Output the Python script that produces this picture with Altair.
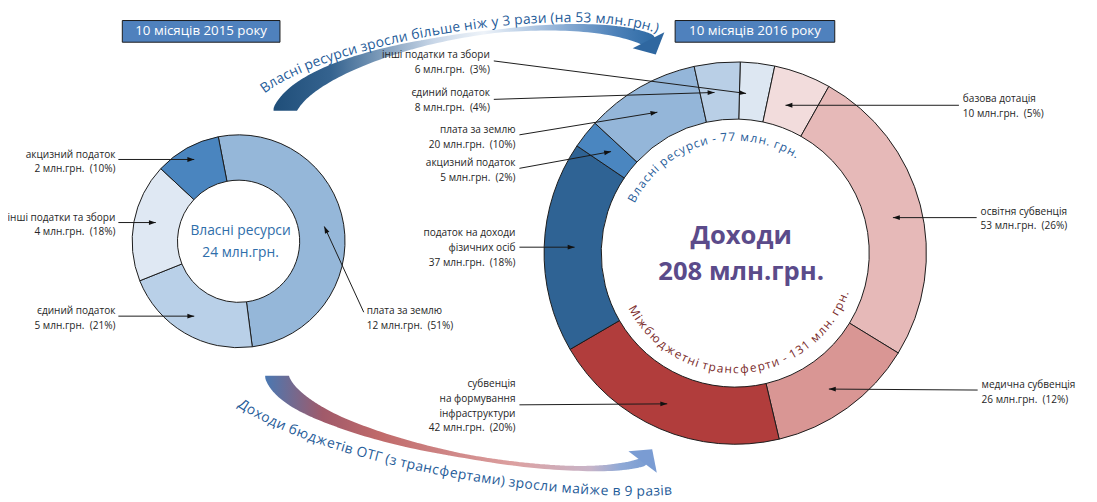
import math
import numpy as np
import pandas as pd
import altair as alt

# ---------------- values ----------------
left_cats = ["плата за землю", "єдиний податок", "інші податки та збори", "акцизний податок"]
left_vals = [12, 5, 4, 2]
left_pcts = [51, 21, 18, 10]

right_cats = ["інші податки та збори", "базова дотація", "освітня субвенція", "медична субвенція",
              "субвенція на формування інфраструктури", "податок на доходи фізичних осіб",
              "акцизний податок", "плата за землю", "єдиний податок"]
right_vals = [6, 10, 53, 26, 42, 37, 5, 20, 8]
right_pcts = [3, 5, 26, 12, 20, 18, 2, 10, 4]

left_title = "10 місяців 2015 року"
right_title = "10 місяців 2016 року"
left_center = ["Власні ресурси", "24 млн.грн."]
right_center = ["Доходи", "208 млн.грн."]
own_arc_text = "Власні ресурси - 77 млн. грн."
transfer_arc_text = "Міжбюджетні трансферти - 131 млн. грн."
top_arrow_text = "Власні ресурси зросли більше ніж у 3 рази (на 53 млн.грн.)"
bottom_arrow_text = "Доходи бюджетів ОТГ (з трансфертами) зросли майже в 9 разів"
unit = "млн.грн."
label_lines = {
    "податок на доходи фізичних осіб": ["податок на доходи", "фізичних осіб"],
    "субвенція на формування інфраструктури": ["субвенція", "на формування", "інфраструктури"],
}

# ---------------- styles ----------------
left_colors = ["#95b7d9", "#b9d0e8", "#dfe8f3", "#4a85bf"]
right_colors = ["#dde7f2", "#f2dcdc", "#e6b9b8", "#d99694", "#b13d3c", "#2f6394",
                "#4a86c0", "#94b6d9", "#b9cfe6"]
FONT = "Open Sans"
W, H = 1097, 502

# ---------------- layout (pixel positions of annotations) ----------------
L_CX, L_CY, L_RO, L_RI, L_START = 242, 241, 108, 62, -11
R_CX, R_CY, R_RO, R_RI, R_START = 746, 253, 194, 136, 1.5

left_layout = {
    "акцизний податок": dict(x=117, y=153, align="right", line=(120, 158, 197, 158)),
    "інші податки та збори": dict(x=117, y=217, align="right", line=(120, 222, 158, 222)),
    "єдиний податок": dict(x=117, y=312, align="right", line=(120, 317, 197, 317)),
    "плата за землю": dict(x=372, y=312, align="left", line=(369, 313, 329, 226)),
}
right_layout = {
    "інші податки та збори": dict(x=497, y=52, align="right", line=(501, 58, 757, 91)),
    "єдиний податок": dict(x=497, y=91, align="right", line=(501, 97, 725, 90)),
    "плата за землю": dict(x=523, y=128, align="right", line=(527, 133, 667, 110)),
    "акцизний податок": dict(x=523, y=162, align="right", line=(527, 167, 620, 150)),
    "податок на доходи фізичних осіб": dict(x=523, y=233, align="right", line=(527, 247, 583, 247)),
    "субвенція на формування інфраструктури": dict(x=523, y=386, align="right", line=(527, 407, 677, 406)),
    "базова дотація": dict(x=977, y=97, align="left", line=(973, 103, 797, 103)),
    "освітня субвенція": dict(x=995, y=211, align="left", line=(991, 217, 906, 217)),
    "медична субвенція": dict(x=996, y=387, align="left", line=(992, 392, 841, 391)),
}

xs = alt.Scale(domain=[8, 8 + W], range=[0, W], nice=False, zero=False)
ys = alt.Scale(domain=[8, 8 + H], range=[0, H], nice=False, zero=False)


def X(f):
    return alt.X(f"{f}:Q", scale=xs, axis=None)


def Y(f):
    return alt.Y(f"{f}:Q", scale=ys, axis=None)


EM = {" ": 0.26, ".": 0.27, ",": 0.27, "(": 0.30, ")": 0.30, "-": 0.32, "і": 0.26, "ї": 0.26,
      "а": 0.56, "б": 0.6, "в": 0.57, "г": 0.45, "д": 0.58, "е": 0.56, "є": 0.52, "ж": 0.8,
      "з": 0.49, "и": 0.63, "й": 0.63, "к": 0.54, "л": 0.6, "м": 0.75, "н": 0.63, "о": 0.6,
      "п": 0.63, "р": 0.61, "с": 0.48, "т": 0.47, "у": 0.5, "ф": 0.77, "х": 0.53, "ц": 0.64,
      "ч": 0.6, "ш": 0.9, "щ": 0.92, "ь": 0.57, "ю": 0.86, "я": 0.56,
      "В": 0.63, "Д": 0.65, "М": 0.86, "О": 0.78, "Т": 0.55, "Г": 0.5}


def em(c):
    if c.isdigit():
        return 0.57
    return EM.get(c, 0.56)


def bezier(P, t):
    t = np.asarray(t, dtype=float)
    (x0, y0), (x1, y1), (x2, y2), (x3, y3) = P
    mt = 1 - t
    x = mt**3 * x0 + 3 * mt**2 * t * x1 + 3 * mt * t**2 * x2 + t**3 * x3
    y = mt**3 * y0 + 3 * mt**2 * t * y1 + 3 * mt * t**2 * y2 + t**3 * y3
    dx = 3 * mt**2 * (x1 - x0) + 6 * mt * t * (x2 - x1) + 3 * t**2 * (x3 - x2)
    dy = 3 * mt**2 * (y1 - y0) + 6 * mt * t * (y2 - y1) + 3 * t**2 * (y3 - y2)
    return x, y, dx, dy


def text_on_bezier(text, P, fs):
    ts = np.linspace(0, 1, 2001)
    x, y, _, _ = bezier(P, ts)
    s = np.concatenate([[0], np.cumsum(np.hypot(np.diff(x), np.diff(y)))])
    widths = [em(c) * fs for c in text]
    k = s[-1] / sum(widths)
    rows, acc = [], 0.0
    for c, w in zip(text, widths):
        mid = (acc + w / 2) * k
        acc += w
        if c == " ":
            continue
        t = float(np.interp(mid, s, ts))
        px, py, pdx, pdy = bezier(P, t)
        rows.append(dict(ch=c, x=float(px), y=float(py), rot=math.degrees(math.atan2(float(pdy), float(pdx)))))
    return pd.DataFrame(rows)


def text_on_circle(text, cx, cy, r, a0, a1, fs):
    L = math.radians(abs(a1 - a0)) * r
    widths = [em(c) * fs for c in text]
    k = L / sum(widths)
    sgn = 1 if a1 > a0 else -1
    rows, acc = [], 0.0
    for c, w in zip(text, widths):
        mid = (acc + w / 2) * k
        acc += w
        if c == " ":
            continue
        phi = math.radians(a0) + sgn * mid / r
        rot = math.degrees(phi) if sgn > 0 else math.degrees(phi) - 180
        rows.append(dict(ch=c, x=cx + r * math.sin(phi), y=cy - r * math.cos(phi), rot=rot))
    return pd.DataFrame(rows)


def char_layer(df, fs, color, weight="normal"):
    return alt.Chart(df).mark_text(font=FONT, fontSize=fs, color=color, align="center",
                                   baseline="middle", fontWeight=weight).encode(
        x=X("x"), y=Y("y"), text="ch:N", angle=alt.Angle("rot:Q", scale=None))


def donut(cats, vals, colors, cx, cy, ro, ri, start):
    df = pd.DataFrame({"cat": cats, "val": vals, "ord": list(range(len(cats))), "cx": cx, "cy": cy})
    s = math.radians(start)
    return alt.Chart(df).mark_arc(radius=ro, radius2=ri, stroke="#1a1a1a", strokeWidth=1).encode(
        x=X("cx"), y=Y("cy"),
        theta=alt.Theta("val:Q", stack=True, scale=alt.Scale(range=[s, s + 2 * math.pi])),
        color=alt.Color("cat:N", scale=alt.Scale(domain=cats, range=colors), legend=None),
        order=alt.Order("ord:Q"))


layers = []

# ---- curved arrows (bands) ----
def band(P, tk, wk, grad):
    ts = np.linspace(0, 1, 90)
    x, y, _, _ = bezier(P, ts)
    df = pd.DataFrame({"x": x, "y": y, "w": np.interp(ts, tk, wk), "t": ts})
    return alt.Chart(df).mark_trail(color=grad).encode(
        x=X("x"), y=Y("y"), size=alt.Size("w:Q", scale=None), order=alt.Order("t:Q"))


def grad(stops):
    return alt.LinearGradient(gradient="linear", x1=0, x2=1, y1=0, y2=0,
                              stops=[alt.GradientStop(offset=o, color=c) for o, c in stops])


top_band = [(289, 108), (320, 42), (581, 2), (658, 37)]
bot_band = [(281, 378), (300, 440), (580, 490), (652, 465)]
layers.append(band(top_band, [0, 0.2, 0.45, 0.6, 0.8, 1.0], [23, 16, 6, 3, 8, 14],
                   grad([(0, "#1f4e79"), (0.15, "#35638f"), (0.42, "#c9d7e8"), (0.55, "#eef3f9"),
                         (0.75, "#8fb0d6"), (0.9, "#4b80b8"), (1, "#2e6aa3")])))
layers.append(band(bot_band, [0, 0.25, 0.55, 0.8, 1.0], [24, 12, 4, 5, 9],
                   grad([(0, "#4a78b2"), (0.15, "#a05a6a"), (0.3, "#c06a6a"), (0.65, "#dca0a0"),
                         (0.85, "#c8b4c8"), (0.93, "#8fa9d6"), (1, "#7a9dd2")])))

# flat cut at the tail of each band (hides the trail's round cap)
masks = pd.DataFrame({"x": [266, 258], "x2": [312, 304], "y": [108.5, 360], "y2": [124, 377.5]})
layers.append(alt.Chart(masks).mark_rect(fill="white", strokeWidth=0).encode(
    x=X("x"), x2="x2:Q", y=Y("y"), y2="y2:Q"))


def head_df(base, d, half):
    n = math.hypot(*d)
    dx, dy = d[0] / n, d[1] / n
    return pd.DataFrame([dict(x=base[0] + 0.45 * half * dx, y=base[1] + 0.45 * half * dy,
                              ang=math.degrees(math.atan2(dx, -dy)))])


for base, d, col in [((658, 37), (0.45, 0.89), "#2f67a0"), ((652, 465), (0.6, -0.8), "#7a9cd3")]:
    layers.append(alt.Chart(head_df(base, d, 18)).mark_point(
        shape="M0,-0.45L1,0.45L-1,0.45Z", filled=True, opacity=1, strokeWidth=0, color=col,
        size=1296).encode(x=X("x"), y=Y("y"), angle=alt.Angle("ang:Q", scale=None)))

top_text_path = [(266, 88), (334, 34), (580, -6), (668, 26)]
bot_text_path = [(243, 405), (325, 462), (558, 503), (682, 494)]
layers.append(char_layer(text_on_bezier(top_arrow_text, top_text_path, 14), 14, "#1f5c99"))
layers.append(char_layer(text_on_bezier(bottom_arrow_text, bot_text_path, 14), 14, "#1f5c99"))

# ---- donuts ----
layers.append(donut(left_cats, left_pcts, left_colors, L_CX, L_CY, L_RO, L_RI, L_START))
layers.append(donut(right_cats, right_vals, right_colors, R_CX, R_CY, R_RO, R_RI, R_START))

# ---- title boxes ----
boxes = pd.DataFrame({"x": [124, 685], "x2": [284, 847], "y": [17, 17], "y2": [39, 39],
                      "t": [left_title, right_title], "tx": [204, 766], "ty": [28, 28]})
layers.append(alt.Chart(boxes).mark_rect(fill="#4f81bd", stroke="#1a1a1a", strokeWidth=1).encode(
    x=X("x"), x2="x2:Q", y=Y("y"), y2="y2:Q"))
layers.append(alt.Chart(boxes).mark_text(font=FONT, fontSize=13.5, color="white", baseline="middle").encode(
    x=X("tx"), y=Y("ty"), text="t:N"))

# ---- centre texts ----
lc = pd.DataFrame({"t": left_center, "x": [L_CX + 2, L_CX + 2], "y": [231, 253]})
layers.append(alt.Chart(lc).mark_text(font=FONT, fontSize=14, color="#2f6eaa", baseline="middle").encode(
    x=X("x"), y=Y("y"), text="t:N"))
rc = pd.DataFrame({"t": right_center, "x": [R_CX + 6, R_CX + 6], "y": [236, 272]})
layers.append(alt.Chart(rc).mark_text(font=FONT, fontSize=26, fontWeight="bold", color="#5b4b8a",
                                      baseline="middle").encode(x=X("x"), y=Y("y"), text="t:N"))
layers.append(char_layer(text_on_circle(own_arc_text, R_CX, R_CY, 118, -64, 33, 12), 12, "#1f5c99"))
layers.append(char_layer(text_on_circle(transfer_arc_text, R_CX, R_CY, 118, 243, 109, 12), 12, "#7a2b2b"))

# ---- labels with leader arrows ----
lab_rows, rule_rows, tip_rows = [], [], []
for cats, vals, pcts, lay in [(left_cats, left_vals, left_pcts, left_layout),
                              (right_cats, right_vals, right_pcts, right_layout)]:
    for c, v, p in zip(cats, vals, pcts):
        spec = lay[c]
        lines = label_lines.get(c, [c]) + [f"{v} {unit}\u00a0 ({p}%)"]
        for i, ln in enumerate(lines):
            lab_rows.append(dict(t=ln, x=spec["x"], y=spec["y"] + i * 15, align=spec["align"]))
        sx, sy, tx, ty = spec["line"]
        rule_rows.append(dict(x=sx, y=sy, x2=tx, y2=ty))
        n = math.hypot(tx - sx, ty - sy)
        dx, dy = (tx - sx) / n, (ty - sy) / n
        tip_rows.append(dict(x=tx - 3.5 * dx, y=ty - 3.5 * dy, ang=math.degrees(math.atan2(dx, -dy))))

lab = pd.DataFrame(lab_rows)
for al in ["right", "left"]:
    layers.append(alt.Chart(lab[lab["align"] == al]).mark_text(
        font=FONT, fontSize=10.2, color="#262626", align=al, baseline="middle").encode(
        x=X("x"), y=Y("y"), text="t:N"))
layers.append(alt.Chart(pd.DataFrame(rule_rows)).mark_rule(color="#1a1a1a", strokeWidth=1).encode(
    x=X("x"), y=Y("y"), x2="x2:Q", y2="y2:Q"))
layers.append(alt.Chart(pd.DataFrame(tip_rows)).mark_point(
    shape="M0,-1L0.7,1L-0.7,1Z", filled=True, opacity=1, strokeWidth=0, color="#111111", size=49).encode(
    x=X("x"), y=Y("y"), angle=alt.Angle("ang:Q", scale=None)))

chart = alt.layer(*layers).resolve_scale(theta="independent", color="independent").properties(
    width=W, height=H, padding=0, autosize=alt.AutoSizeParams(type="none")
).configure_view(stroke=None)

chart.save("out.html", embed_options={"renderer": "svg", "actions": False})
